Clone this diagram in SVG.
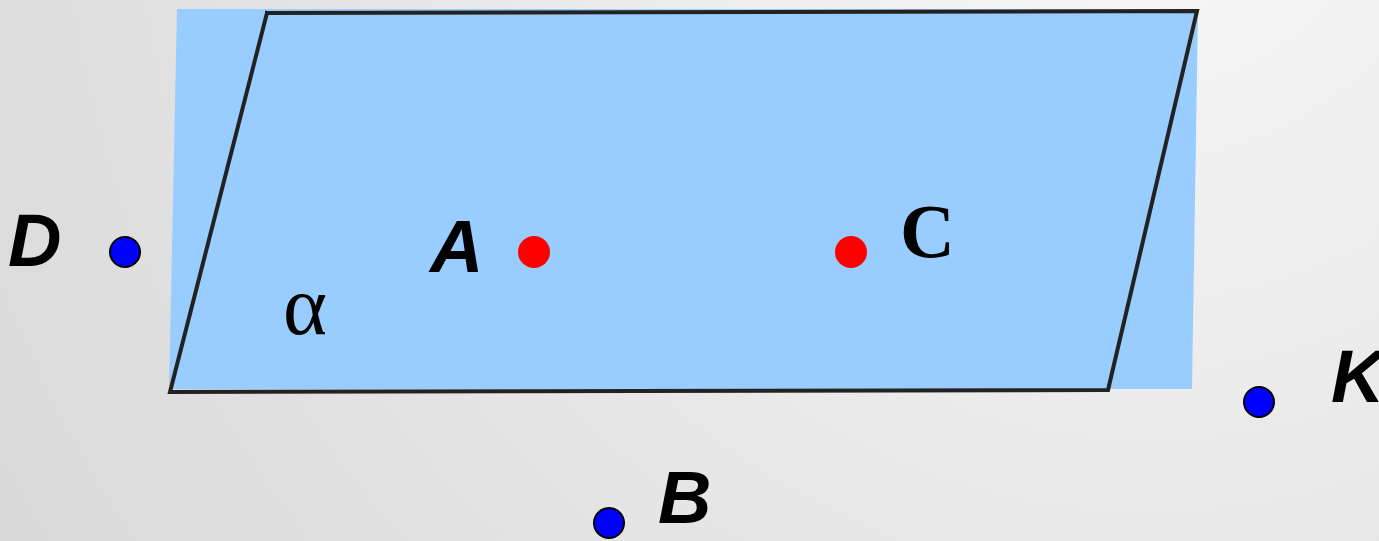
<svg xmlns="http://www.w3.org/2000/svg" width="1379" height="541" viewBox="0 0 1379 541">
<defs>
<radialGradient id="bg" cx="1150" cy="-150" r="1350" gradientUnits="userSpaceOnUse">
<stop offset="0" stop-color="#f8f8f8"/>
<stop offset="1" stop-color="#d9d9d9"/>
</radialGradient>
<style>
.lbl{font-family:"Liberation Sans",Arial,sans-serif;font-weight:bold;font-style:italic;font-size:74px;fill:#000}
.ser{font-family:"Liberation Serif","Times New Roman",serif;fill:#000}
.blue{fill:#0000ff;stroke:#000;stroke-width:2}
.red{fill:#ff0000}
.edge{stroke:#222;stroke-width:4;fill:none;stroke-linecap:square}
</style>
</defs>
<rect width="1379" height="541" fill="url(#bg)"/>
<g id="plane">
<polygon points="177,9 1198,9 1192,389 169,389" fill="#99ccff"/>
</g>
<g id="connectors">
<polyline class="edge" points="267,13 1197,11 1108,390 170,392 267,13"/>
</g>
<g id="alpha"><text class="ser" x="283" y="334" font-size="84">α</text></g>
<g id="D"><circle class="blue" cx="125" cy="252" r="15"/><text class="lbl" x="8" y="266">D</text></g>
<g id="A"><circle class="red" cx="534" cy="252" r="16"/><text class="lbl" x="430" y="272">A</text></g>
<g id="C"><circle class="red" cx="851" cy="252" r="16"/><text class="ser" x="900" y="257" font-size="76" font-weight="bold">C</text></g>
<g id="K"><circle class="blue" cx="1259" cy="402" r="15"/><text class="lbl" x="1331" y="402">K</text></g>
<g id="B"><circle class="blue" cx="609" cy="523" r="15"/><text class="lbl" x="658" y="523">B</text></g>
</svg>
